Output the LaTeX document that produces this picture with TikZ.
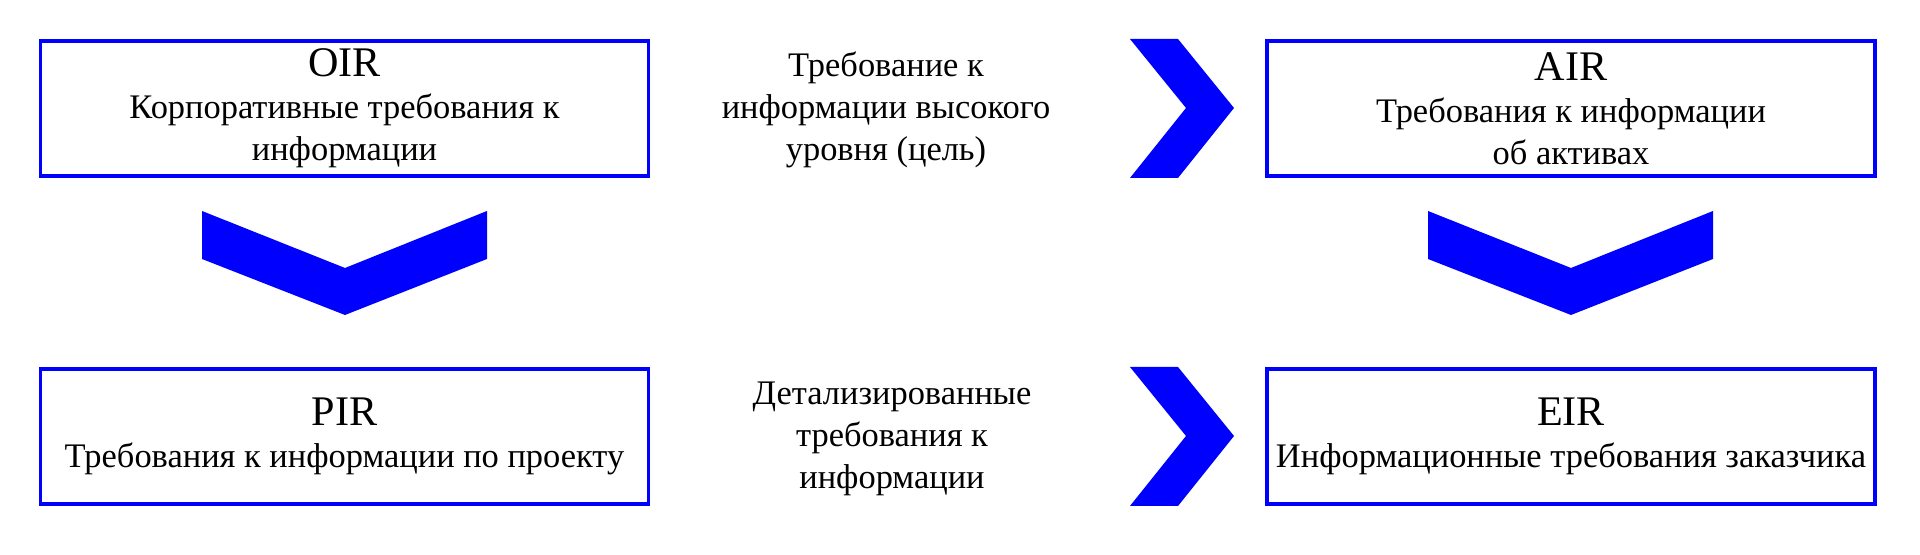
\documentclass[tikz,border=0pt]{standalone}
\usepackage{fontspec}
\setmainfont{Liberation Serif}

\begin{document}
\begin{tikzpicture}[
						x=0.1mm, y=-0.1mm,
						req/.style = {draw=blue, line width=0.35mm, minimum width=60.8mm, minimum height=13.5mm, align=center, inner sep=0pt, font=\fontsize{9.8}{12}\selectfont},
						note/.style = {align=center, inner sep=0pt, font=\fontsize{9.8}{12}\selectfont},
						chev/.style = {fill=blue, draw=none}
					]
					\useasboundingbox (0,0) rectangle (1920,555);
					\node[req] (oir) at (344.5,108.5) {{\fontsize{12}{12}\selectfont OIR}\\Корпоративные требования к\\информации};
					\node[req] (air) at (1571,108.5) {{\fontsize{12}{12}\selectfont AIR}\\Требования к информации\\об активах};
					\node[req] (pir) at (344.5,436.5) {{\fontsize{12}{12}\selectfont PIR}\\Требования к информации по проекту};
					\node[req] (eir) at (1571,436.5) {{\fontsize{12}{12}\selectfont EIR}\\Информационные требования заказчика};
					\node[note] (goal) at (886,110) {Требование к\\информации высокого\\уровня (цель)};
					\node[note] (detail) at (892,439) {Детализированные\\требования к\\информации};
					\fill[chev] (1130,39) -- (1178,39) -- (1234,108) -- (1178,178) -- (1130,178) -- (1186,108) -- cycle;
					\fill[chev] (1130,367) -- (1178,367) -- (1234,436) -- (1178,506) -- (1130,506) -- (1186,436) -- cycle;
					\fill[chev] (202,211) -- (345,268) -- (487,211) -- (487,259) -- (345,315) -- (202,259) -- cycle;
					\fill[chev] (1428,211) -- (1571,268) -- (1713,211) -- (1713,259) -- (1571,315) -- (1428,259) -- cycle;
				\end{tikzpicture}
\end{document}
